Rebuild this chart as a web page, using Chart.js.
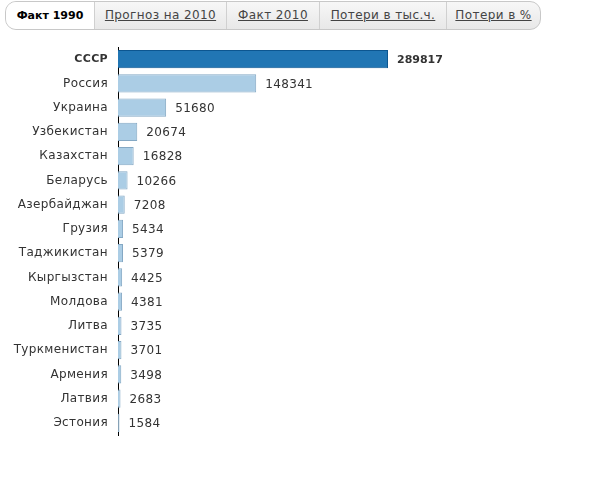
<!DOCTYPE html>
<html>
<head>
<meta charset="utf-8">
<script src="https://cdn.jsdelivr.net/npm/chart.js@4"></script>
<style>
  body { margin: 0; background: #fff; font-family: "DejaVu Sans", sans-serif; }
  .wrap { position: relative; width: 600px; height: 495px; }
  .tabs {
    position: absolute; left: 5px; top: 1px; height: 27px; width: 534px;
    display: flex; border: 1px solid #c8c8c8; border-radius: 11px;
    overflow: hidden; background: linear-gradient(#f7f7f7, #e8e8e8);
  }
  .tabs div {
    box-sizing: border-box; text-align: center;
    font-size: 12px; line-height: 27px; color: #444; letter-spacing: 0.4px;
    text-decoration: underline; border-left: 1px solid #d0d0d0;
  }
  .tabs div:first-child { border-left: none; }
  .tabs .sel { background: #fff; font-weight: bold; font-size: 11px; letter-spacing: 0; color: #000; text-decoration: none; }
</style>
</head>
<body>
<div class="wrap">
  <div class="tabs">
    <div class="sel" style="width:88px">Факт 1990</div>
    <div style="width:132px">Прогноз на 2010</div>
    <div style="width:93px">Факт 2010</div>
    <div style="width:127px">Потери в тыс.ч.</div>
    <div style="width:94px">Потери в %</div>
  </div>
  <canvas id="grafico" width="600" height="495" style="position:absolute;left:0;top:0"></canvas>
</div>
<script>
const paises = ['СССР', 'Россия', 'Украина', 'Узбекистан', 'Казахстан', 'Беларусь', 'Азербайджан', 'Грузия',
  'Таджикистан', 'Кыргызстан', 'Молдова', 'Литва', 'Туркменистан', 'Армения', 'Латвия', 'Эстония']
const fakt1990 = [289817, 148341, 51680, 20674, 16828, 10266, 7208, 5434, 5379, 4425, 4381, 3735, 3701, 3498, 2683, 1584]

const corFundo = paises.map((p, i) => i == 0 ? '#2176b4' : '#abcde5')
const corBorda = paises.map((p, i) => i == 0 ? '#0c5690' : '#84a8c4')

/* espacamento entre letras como no original */
const espaco = {
  id: 'espaco',
  beforeDraw(chart) { chart.ctx.letterSpacing = '0.35px' }
}

/* rotulos dos valores na ponta das barras */
const rotulos = {
  id: 'rotulos',
  afterDatasetsDraw(chart) {
    const ctx = chart.ctx
    const meta = chart.getDatasetMeta(0)
    ctx.save()
    ctx.fillStyle = '#333'
    ctx.textBaseline = 'middle'
    ctx.textAlign = 'left'
    meta.data.forEach((bar, i) => {
      ctx.font = i == 0 ? 'bold 11px "DejaVu Sans"' : '12px "DejaVu Sans"'
      ctx.letterSpacing = i == 0 ? '0px' : '0.35px'
      ctx.fillText(fakt1990[i], bar.x + 9, bar.y + 1)
    })
    ctx.restore()
  }
}

const config = {
  type: 'bar',
  data: {
    labels: paises,
    datasets: [{
      data: fakt1990,
      backgroundColor: corFundo,
      borderColor: corBorda,
      borderWidth: 1,
      barPercentage: 0.76,
      categoryPercentage: 1
    }]
  },
  options: {
    indexAxis: 'y',
    responsive: false,
    animation: false,
    layout: { padding: { top: 47, bottom: 60, right: 212, left: 0 } },
    plugins: { legend: { display: false }, tooltip: { enabled: false } },
    scales: {
      x: { display: false, min: 0, max: 289817 },
      y: {
        grid: { display: false, drawTicks: false },
        border: { display: true, color: '#000', width: 1 },
        afterFit(scale) { scale.width = 118 },
        ticks: {
          padding: 10,
          color: '#333',
          font: ctx => ctx.index == 0
            ? { family: 'DejaVu Sans', size: 11, weight: 'bold' }
            : { family: 'DejaVu Sans', size: 12, weight: 'normal' }
        }
      }
    }
  },
  plugins: [espaco, rotulos]
}

new Chart(document.getElementById('grafico').getContext('2d'), config)
</script>
</body>
</html>
